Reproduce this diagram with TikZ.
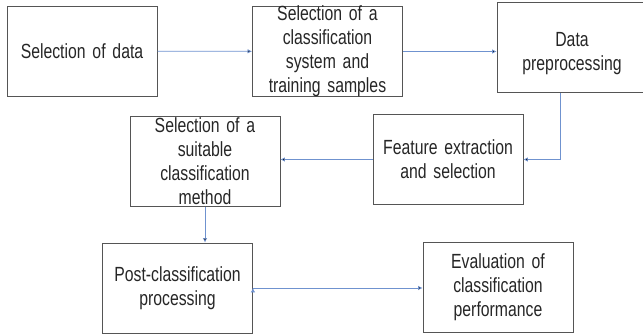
\documentclass[tikz,border=0pt]{standalone}
\usepackage{fontspec}
\setmainfont{Liberation Sans}[FakeStretch=0.77, WordSpace=0.8]
\usepackage{tikz}
\usetikzlibrary{arrows.meta, positioning}
\usepackage{xcolor}
\definecolor{boxline}{HTML}{555555}
\definecolor{arrowblue}{HTML}{6F92CF}

\begin{document}
\begin{tikzpicture}[x=1pt, y=-1pt]
                \tikzstyle{box} = [shape=rectangle, draw=boxline, line width=0.9pt, minimum width=150pt, minimum height=90pt, text width=150pt, inner sep=0pt, align=center, text=black!85, font=\fontsize{20.5}{24}\selectfont];
                \tikzstyle{flow} = [-{Latex[length=4.5pt,width=4.5pt]}, draw=arrowblue, line width=0.7pt];

                \useasboundingbox (0,0) rectangle (643,336);

                \node[box](D) at (82,51) {Selection of data};
                \node[box, inner ysep=-3pt](S) at (327.5,51.5) {Selection of a\\ classification\\ system and\\ training samples};
                \node[box](P) at (572,47.5) {\rule{0pt}{26pt}Data\\ preprocessing};
                \node[box](F) at (448,159.5) {Feature extraction\\ and selection};
                \node[box, inner ysep=-3pt](M) at (205,161.5) {Selection of a\\ suitable\\ classification\\ method};
                \node[box](C) at (177.5,288) {Post-classification\\ processing};
                \node[box](E) at (498,287.5) {Evaluation of\\ classification\\ performance};

                \draw[flow]
                    (D) edge (S)
                    (S.east) edge (S.east -| P.west)
                    ([xshift=-12pt]P.south) edge[to path={|- (\tikztotarget)}] (F.east)
                    (F.west) edge (F.west -| M.east)
                    (M.south) edge (M.south |- C.north)
                    (C.east) edge (C.east -| E.west)
                ;
            \end{tikzpicture}
\end{document}
